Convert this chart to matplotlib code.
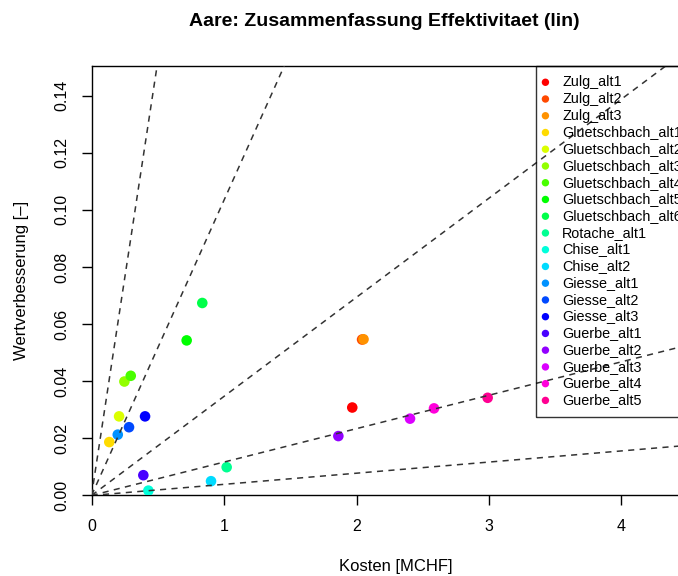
import colorsys
import matplotlib
matplotlib.use("Agg")
import matplotlib.pyplot as plt

# Daten: Kosten [MCHF] und Wertverbesserung [-]
namen = ["Zulg_alt1", "Zulg_alt2", "Zulg_alt3",
         "Gluetschbach_alt1", "Gluetschbach_alt2", "Gluetschbach_alt3",
         "Gluetschbach_alt4", "Gluetschbach_alt5", "Gluetschbach_alt6",
         "Rotache_alt1", "Chise_alt1", "Chise_alt2",
         "Giesse_alt1", "Giesse_alt2", "Giesse_alt3",
         "Guerbe_alt1", "Guerbe_alt2", "Guerbe_alt3", "Guerbe_alt4", "Guerbe_alt5"]
kosten = [1.968, 2.042, 2.053,
          0.134, 0.208, 0.248, 0.296, 0.718, 0.836,
          1.020, 0.429, 0.902,
          0.198, 0.283, 0.404,
          0.391, 1.863, 2.404, 2.585, 2.990]
wertverb = [0.0308, 0.0546, 0.0547,
            0.0187, 0.0277, 0.0399, 0.0419, 0.0543, 0.0674,
            0.0099, 0.0017, 0.0050,
            0.0213, 0.0239, 0.0277,
            0.0071, 0.0208, 0.0269, 0.0305, 0.0342]

# Effektivitaetslinien durch den Ursprung
steigungen = [0.304, 0.1034, 0.0347, 0.0117, 0.0039]

x_ticks = [0, 1, 2, 3, 4]
y_ticks = [0.00, 0.02, 0.04, 0.06, 0.08, 0.10, 0.12, 0.14]

# Farben wie rainbow() in R
farben = [colorsys.hsv_to_rgb(i / 21, 1, 1) for i in range(len(namen))]

plt.rcParams['font.family'] = ['Liberation Sans', 'DejaVu Sans']

fig = plt.figure(figsize=(6.78, 5.76), dpi=100)
ax = fig.add_axes([0.135, 0.1398, 0.8975, 0.7462])

for s in steigungen:
    ax.axline((0, 0), slope=s, color='#333333', linestyle=(0, (4, 3.5)), linewidth=1.1, zorder=4)

for i in range(len(namen)):
    ax.scatter(kosten[i], wertverb[i], s=58, color=farben[i], edgecolors='none', label=namen[i], zorder=3)

ax.set_xlim(0, 4.593)
ax.set_ylim(0, 0.1505)
ax.set_xticks(x_ticks)
ax.set_yticks(y_ticks)
ax.set_yticklabels([f"{v:.2f}" for v in y_ticks], rotation=90, va='center')
ax.tick_params(direction='out', length=7, width=1, labelsize=11.5, pad=10)
ax.tick_params(axis='y', pad=9)
for sp in ax.spines.values():
    sp.set_linewidth(1)

ax.set_xlabel('Kosten [MCHF]', fontsize=12, labelpad=18)
ax.set_ylabel('Wertverbesserung [–]', fontsize=12, labelpad=18)
fig.text(384 / 678, 1 - 22 / 576, 'Aare: Zusammenfassung Effektivitaet (lin)',
         ha='center', va='center', fontsize=14, fontweight='bold')

leg = ax.legend(loc='upper left', bbox_to_anchor=(0.7305, 1.0), fontsize=10.4,
                frameon=True, fancybox=False, edgecolor='black', facecolor='none',
                labelspacing=0.19, handletextpad=1.15, borderpad=0.65,
                handlelength=0.0, markerscale=0.7, borderaxespad=0)
leg.get_frame().set_linewidth(1)

fig.savefig('out.png', dpi=100)
